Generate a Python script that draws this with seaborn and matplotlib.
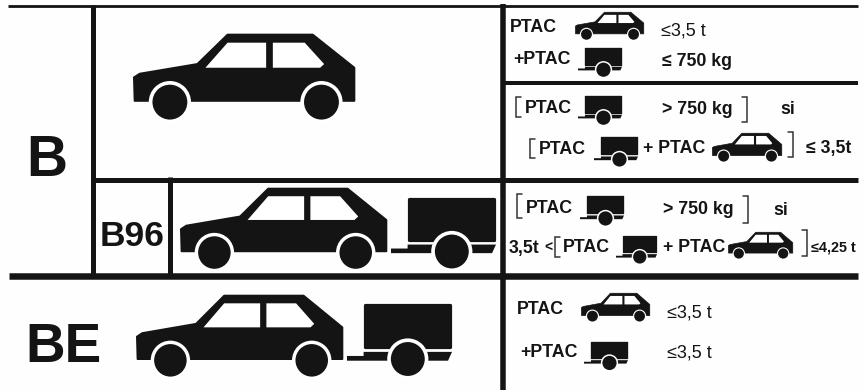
import matplotlib
matplotlib.use("Agg")
import matplotlib.pyplot as plt
from matplotlib.patches import Polygon, Circle
import seaborn as sns

sns.set_theme(style="white")
plt.rcParams['font.family'] = ['Liberation Sans', 'DejaVu Sans']

INK = "#141414"
PX = 0.72  # one pixel in points at dpi 100

# Table content
category_labels = ["B", "BE", "B96"]
ptac = "PTAC"
plus_ptac = "+PTAC"
plus_sp_ptac = "+ PTAC"
lim_35 = "≤3,5 t"
lim_750 = "≤ 750 kg"
over_750 = "> 750 kg"
joiner = "si"
lim_35b = "≤ 3,5t"
low_35 = "3,5t"
lt = "<"
lim_425 = "≤4,25 t"

fig = plt.figure(figsize=(8.63, 3.9), dpi=100, facecolor="#fefefe")
ax = fig.add_axes([0, 0, 1, 1])
ax.set_xlim(0, 863)
ax.set_ylim(390, 0)
ax.axis("off")


def rule(x0, y0, x1, y1, px):
    ax.plot([x0, x1], [y0, y1], color=INK, lw=px * PX, solid_capstyle="butt", zorder=2)


def bracket(x, y0, y1, side):
    tick = 5 * side
    ax.plot([x + tick, x, x, x + tick], [y0, y0, y1, y1], color="#303030",
            lw=1.5 * PX, solid_joinstyle="miter", zorder=2)


def put(x, y, s, size=12.8, weight="bold"):
    ax.text(x, y, s, fontsize=size, fontweight=weight, color=INK,
            ha="left", va="baseline", zorder=5)


def car(x0, x1, top, bottom):
    sx = (x1 - x0) / 662.0
    sy = (bottom - top) / 256.0
    T = lambda pts: [(x0 + (a - 400) * sx, top + (b - 102) * sy) for a, b in pts]
    lw = 6 * sx * PX
    body = [(403, 232), (420, 221), (592, 192), (682, 104), (936, 104), (1060, 203),
            (1060, 302), (405, 302)]
    ax.add_patch(Polygon(T(body), closed=True, fc=INK, ec=INK, lw=lw, joinstyle="round", zorder=3))
    r_arch = 63 * sx
    r_w = 52 * sx
    for cx in (510, 962):
        c = T([(cx, 306)])[0]
        ax.add_patch(Circle(c, r_arch, fc="white", ec="none", zorder=3.1))
        ax.add_patch(Circle(c, r_w, fc=INK, ec="none", zorder=3.2))
    w1 = [(616, 203), (682, 128), (797, 128), (797, 203)]
    w2 = [(817, 128), (912, 128), (970, 192), (958, 203), (817, 203)]
    for w in (w1, w2):
        ax.add_patch(Polygon(T(w), closed=True, fc="white", ec="none", zorder=3.3))


def trailer(x0, x1, top, bottom):
    sx = (x1 - x0) / 316.0
    sy = (bottom - top) / 218.0
    T = lambda pts: [(x0 + (a - 1172) * sx, top + (b - 590) * sy) for a, b in pts]
    lw = 6 * sx * PX
    box = [(1225, 595), (1483, 595), (1483, 720), (1225, 720)]
    ax.add_patch(Polygon(T(box), closed=True, fc=INK, ec=INK, lw=lw * 1.6, joinstyle="round", zorder=3))
    strip = [(1222, 734), (1488, 734), (1476, 760), (1222, 760), (1222, 760), (1172, 760),
             (1172, 746), (1222, 746)]
    ax.add_patch(Polygon(T(strip), closed=True, fc=INK, ec="none", zorder=3))
    c = T([(1355, 755)])[0]
    ax.add_patch(Circle(c, 62 * sx, fc="white", ec="none", zorder=3.1))
    ax.add_patch(Circle(c, 51 * sx, fc=INK, ec="none", zorder=3.2))


# Grid
rule(8, 5.5, 858, 5.5, 2.8)
rule(92.5, 5, 92.5, 276, 5)
rule(92, 180, 858, 180, 5)
rule(169.5, 177, 169.5, 276, 5)
rule(9, 276, 858, 276, 6.5)
rule(503, 4, 503, 390, 5.5)
rule(505, 83, 858, 83, 4)

# Left column
put(26, 176, category_labels[0], size=41)
put(25, 362, category_labels[1], size=39.5)
put(99.5, 246, category_labels[2], size=25.5)
car(133, 355, 34, 119.5)
car(180, 387, 188, 269)
trailer(391, 496, 197, 269)
car(136, 343, 295, 377)
trailer(347, 452, 303, 377)

# Right column, row by row
put(510, 32, ptac)
car(575, 644, 12, 40)
put(661, 35, lim_35, weight="normal", size=13)

put(513, 64, plus_ptac)
trailer(578, 622, 47, 77)
put(662, 66, lim_750)

bracket(516, 97, 117, 1)
put(525, 113, ptac)
trailer(578, 622, 95, 125)
put(662, 114, over_750)
bracket(747, 97, 122, -1)
put(780, 114, joiner)

bracket(530, 139, 158, 1)
put(539, 154, ptac)
trailer(594, 638, 136, 167)
put(643, 153, plus_sp_ptac)
car(712, 782, 133, 162)
bracket(793, 132, 157, -1)
put(806, 153, lim_35b)

bracket(517, 194, 218, 1)
put(526, 213, ptac)
trailer(580, 624, 195, 226)
put(663, 214, over_750)
bracket(748, 196, 223, -1)
put(773, 215, joiner)

put(509, 253, low_35)
put(544, 252, lt, size=10)
bracket(555, 237, 257, 1)
put(563, 252, ptac)
trailer(616, 657, 235, 264)
put(663, 252, plus_sp_ptac)
car(728, 793, 232, 259)
bracket(807, 230, 256, -1)
put(811, 251, lim_425, size=10.4)

put(517, 314, ptac)
car(581, 650, 293, 322)
put(667, 317, lim_35, weight="normal", size=13)

put(520, 357, plus_ptac)
trailer(584, 628, 341, 370)
put(667, 357, lim_35, weight="normal", size=13)

fig.savefig("out.png", dpi=100, facecolor=fig.get_facecolor())
